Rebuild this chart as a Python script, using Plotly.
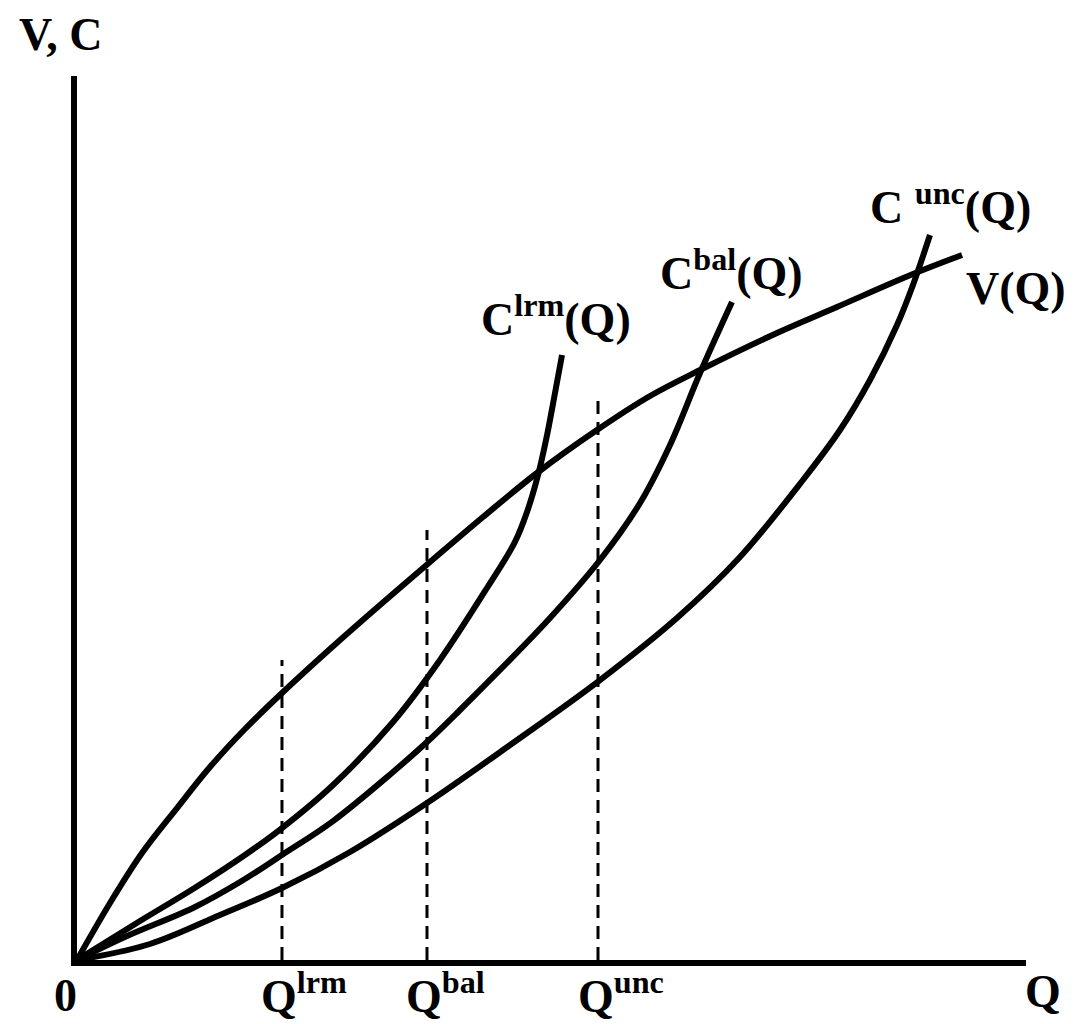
import plotly.graph_objects as go

# ---- data ----
V_q = [0, 3.48, 6.85, 10.54, 14.01, 17.70, 21.60, 26.66, 31.93, 37.20, 42.78, 48.47, 54.79, 60.38, 65.65, 73.76, 80.08, 88.09, 93.26]
V_v = [0, 6.45, 12.10, 17.19, 21.83, 26.13, 30.20, 35.18, 40.16, 45.02, 50.11, 55.09, 59.95, 63.80, 66.74, 70.93, 73.87, 77.60, 79.75]

Clrm_q = [0, 6.64, 12.22, 17.70, 21.60, 26.98, 33.30, 38.25, 43.20, 46.15, 47.42, 48.58, 49.53, 50.37, 51.11]
Clrm_c = [0, 4.41, 8.03, 11.88, 14.93, 19.80, 26.92, 33.94, 42.08, 47.29, 50.68, 54.86, 59.38, 64.14, 68.44]

Cbal_q = [0, 5.27, 12.22, 17.18, 21.60, 26.98, 33.30, 36.88, 40.36, 44.57, 49.84, 55.11, 59.33, 62.49, 65.65, 69.02]
Cbal_c = [0, 2.71, 5.88, 8.82, 11.88, 15.72, 21.27, 24.66, 28.28, 32.81, 38.69, 45.25, 51.70, 58.26, 66.40, 74.43]

Cunc_q = [0, 7.69, 15.07, 21.60, 28.77, 36.88, 45.63, 55.11, 63.22, 69.86, 76.50, 80.40, 83.56, 86.41, 88.09, 89.88]
Cunc_c = [0, 1.81, 5.09, 8.14, 12.22, 17.76, 24.32, 31.67, 38.69, 45.59, 54.30, 59.95, 65.61, 71.83, 76.36, 82.01]

Q_marks = [21.60, 36.88, 54.90]
Q_mark_tops = [33.94, 48.64, 64.14]
Q_mark_labels = ["Q<sup>lrm</sup>", "Q<sup>bal</sup>", "Q<sup>unc</sup>"]

curve_labels = ["C<sup>lrm</sup>(Q)", "C<sup>bal</sup>(Q)", "C <sup>unc</sup>(Q)", "V(Q)"]

FONT = "Liberation Serif"
fig = go.Figure()

for xs, ys, name in [(V_q, V_v, "V"), (Clrm_q, Clrm_c, "Clrm"),
                     (Cbal_q, Cbal_c, "Cbal"), (Cunc_q, Cunc_c, "Cunc")]:
    fig.add_trace(go.Scatter(x=xs, y=ys, mode="lines",
                             line=dict(color="black", width=6, shape="spline", smoothing=1.0),
                             name=name, showlegend=False, hoverinfo="skip"))

for q, top in zip(Q_marks, Q_mark_tops):
    fig.add_trace(go.Scatter(x=[q, q], y=[0, top], mode="lines",
                             line=dict(color="black", width=3, dash="13px,8px"),
                             showlegend=False, hoverinfo="skip"))

big = dict(family=FONT, size=46, color="black", weight="bold")

annotations = []
# axis labels (paper coordinates, outside the plotting area)
annotations.append(dict(xref="paper", yref="paper", x=-0.0169, y=1.0464, text="V, C",
                        showarrow=False, font=big, xanchor="center", yanchor="middle"))
annotations.append(dict(xref="paper", yref="paper", x=-0.0116, y=-0.0400, text="0",
                        showarrow=False, font=big, xanchor="center", yanchor="middle"))
annotations.append(dict(xref="paper", yref="paper", x=1.0179, y=-0.0351, text="Q",
                        showarrow=False, font=big, xanchor="center", yanchor="middle"))
# Q marks labels
q_label_left = [0.1918, 0.3446, 0.5258]
for xl, lab in zip(q_label_left, Q_mark_labels):
    annotations.append(dict(xref="paper", yref="paper", x=xl, y=-0.0368, text=lab,
                            showarrow=False, font=big, xanchor="left", yanchor="middle"))
# curve labels
curve_label_pos = [(42.36, 72.85), (61.22, 78.0), (83.35, 85.57), (93.47, 76.0)]
for (xl, yl), lab in zip(curve_label_pos, curve_labels):
    annotations.append(dict(x=xl, y=yl, text=lab, showarrow=False, font=big,
                            xanchor="left", yanchor="middle"))

axis_common = dict(showgrid=False, zeroline=False, showticklabels=False, ticks="",
                   showline=True, linecolor="black", linewidth=6)
fig.update_layout(
    width=1069, height=1016,
    margin=dict(l=69, r=51, t=68, b=64),
    paper_bgcolor="white", plot_bgcolor="white",
    xaxis=dict(range=[0, 100], **axis_common),
    yaxis=dict(range=[0, 100], **axis_common),
    annotations=annotations,
    showlegend=False,
)

fig.write_html("out.html")
